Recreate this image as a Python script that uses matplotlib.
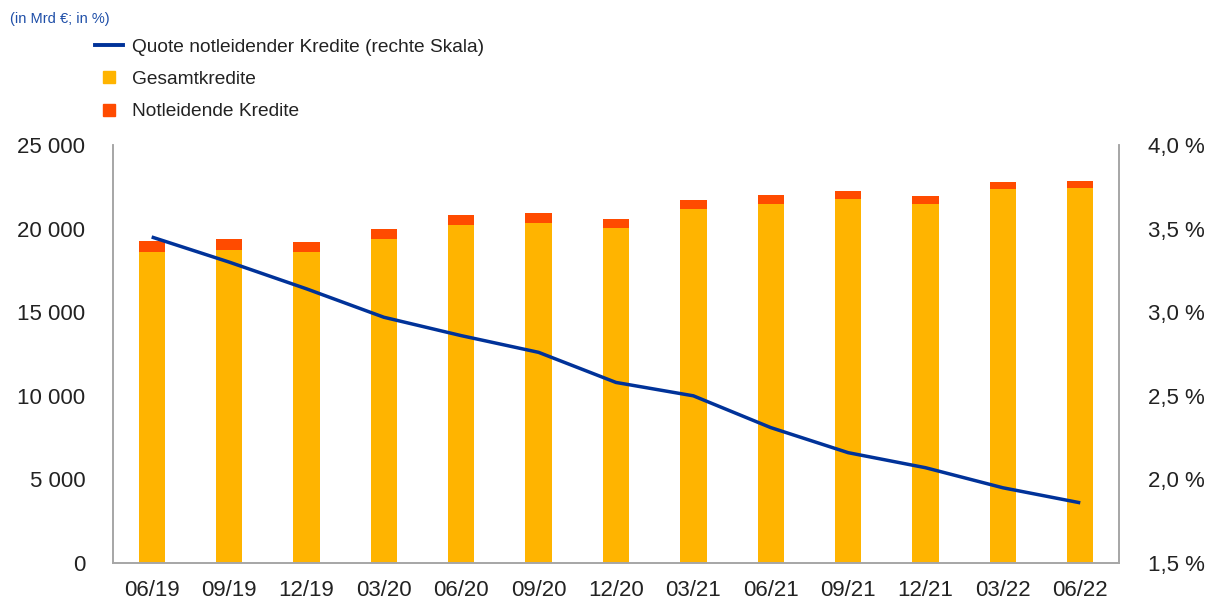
import numpy as np
import matplotlib
matplotlib.use("Agg")
import matplotlib.pyplot as plt
from matplotlib.lines import Line2D
from matplotlib.ticker import FuncFormatter, MultipleLocator

plt.rcParams['font.family'] = ['Liberation Sans', 'DejaVu Sans']

# data (in Mrd EUR; ratio in %)
quarters = ["06/19", "09/19", "12/19", "03/20", "06/20", "09/20", "12/20",
            "03/21", "06/21", "09/21", "12/21", "03/22", "06/22"]
gesamt = [18590, 18750, 18600, 19385, 20245, 20340, 20045,
          21145, 21445, 21765, 21445, 22360, 22440]
notleidend = [655, 655, 585, 595, 575, 585, 520,
              540, 540, 495, 480, 420, 400]
quote = [3.45, 3.30, 3.14, 2.97, 2.86, 2.76, 2.58,
         2.50, 2.31, 2.16, 2.07, 1.95, 1.86]

c_yellow = "#FFB400"
c_orange = "#FF4B00"
c_blue = "#003299"
c_text = "#222222"
c_spine = "#A6A6A6"

fig = plt.figure(figsize=(12.16, 6.01), dpi=100)
ax = fig.add_axes([0.0929, 0.0632, 0.8273, 0.6955])
ax2 = ax.twinx()

x = np.arange(len(quarters))
w = 0.34
ax.bar(x, gesamt, width=w, color=c_yellow, zorder=2)
ax.bar(x, notleidend, width=w, bottom=gesamt, color=c_orange, zorder=2)

ax2.plot(x, quote, color=c_blue, lw=2.5, solid_joinstyle="round",
         solid_capstyle="butt", zorder=3)

ax.set_xlim(-0.5, len(quarters) - 0.5)
ax.set_ylim(0, 25000)
ax.yaxis.set_major_locator(MultipleLocator(5000))
ax.yaxis.set_major_formatter(FuncFormatter(lambda v, p: f"{int(v):,}".replace(",", " ")))
ax2.set_ylim(1.5, 4.0)
ax2.yaxis.set_major_locator(MultipleLocator(0.5))
ax2.yaxis.set_major_formatter(FuncFormatter(lambda v, p: f"{v:.1f} %".replace(".", ",")))

ax.set_xticks(x)
ax.set_xticklabels(quarters)

for a in (ax, ax2):
    a.spines["top"].set_visible(False)
    for s in ("left", "right", "bottom"):
        a.spines[s].set_color(c_spine)
        a.spines[s].set_linewidth(1.2)
    a.tick_params(length=0, labelsize=16, colors=c_text)
ax.tick_params(axis="y", pad=20)
ax.tick_params(axis="x", pad=12)
ax2.tick_params(axis="y", pad=21)
ax2.set_zorder(ax.get_zorder() + 1)
ax2.patch.set_visible(False)

fig.text(0.008, 0.969, "(in Mrd \u20ac; in %)", color="#1F4FA8", fontsize=10.5,
         va="center", ha="left")

handles = [
    Line2D([], [], color=c_blue, lw=2.8),
    Line2D([], [], color=c_yellow, marker="s", ls="none", markersize=8),
    Line2D([], [], color=c_orange, marker="s", ls="none", markersize=8),
]
labels = ["Quote notleidender Kredite (rechte Skala)", "Gesamtkredite", "Notleidende Kredite"]
fig.legend(handles, labels, loc="upper left", bbox_to_anchor=(0.0638, 0.965),
           frameon=False, fontsize=13.8, handlelength=1.45, handletextpad=0.5,
           labelspacing=0.78, labelcolor=c_text)

fig.savefig("out.png", dpi=100)
